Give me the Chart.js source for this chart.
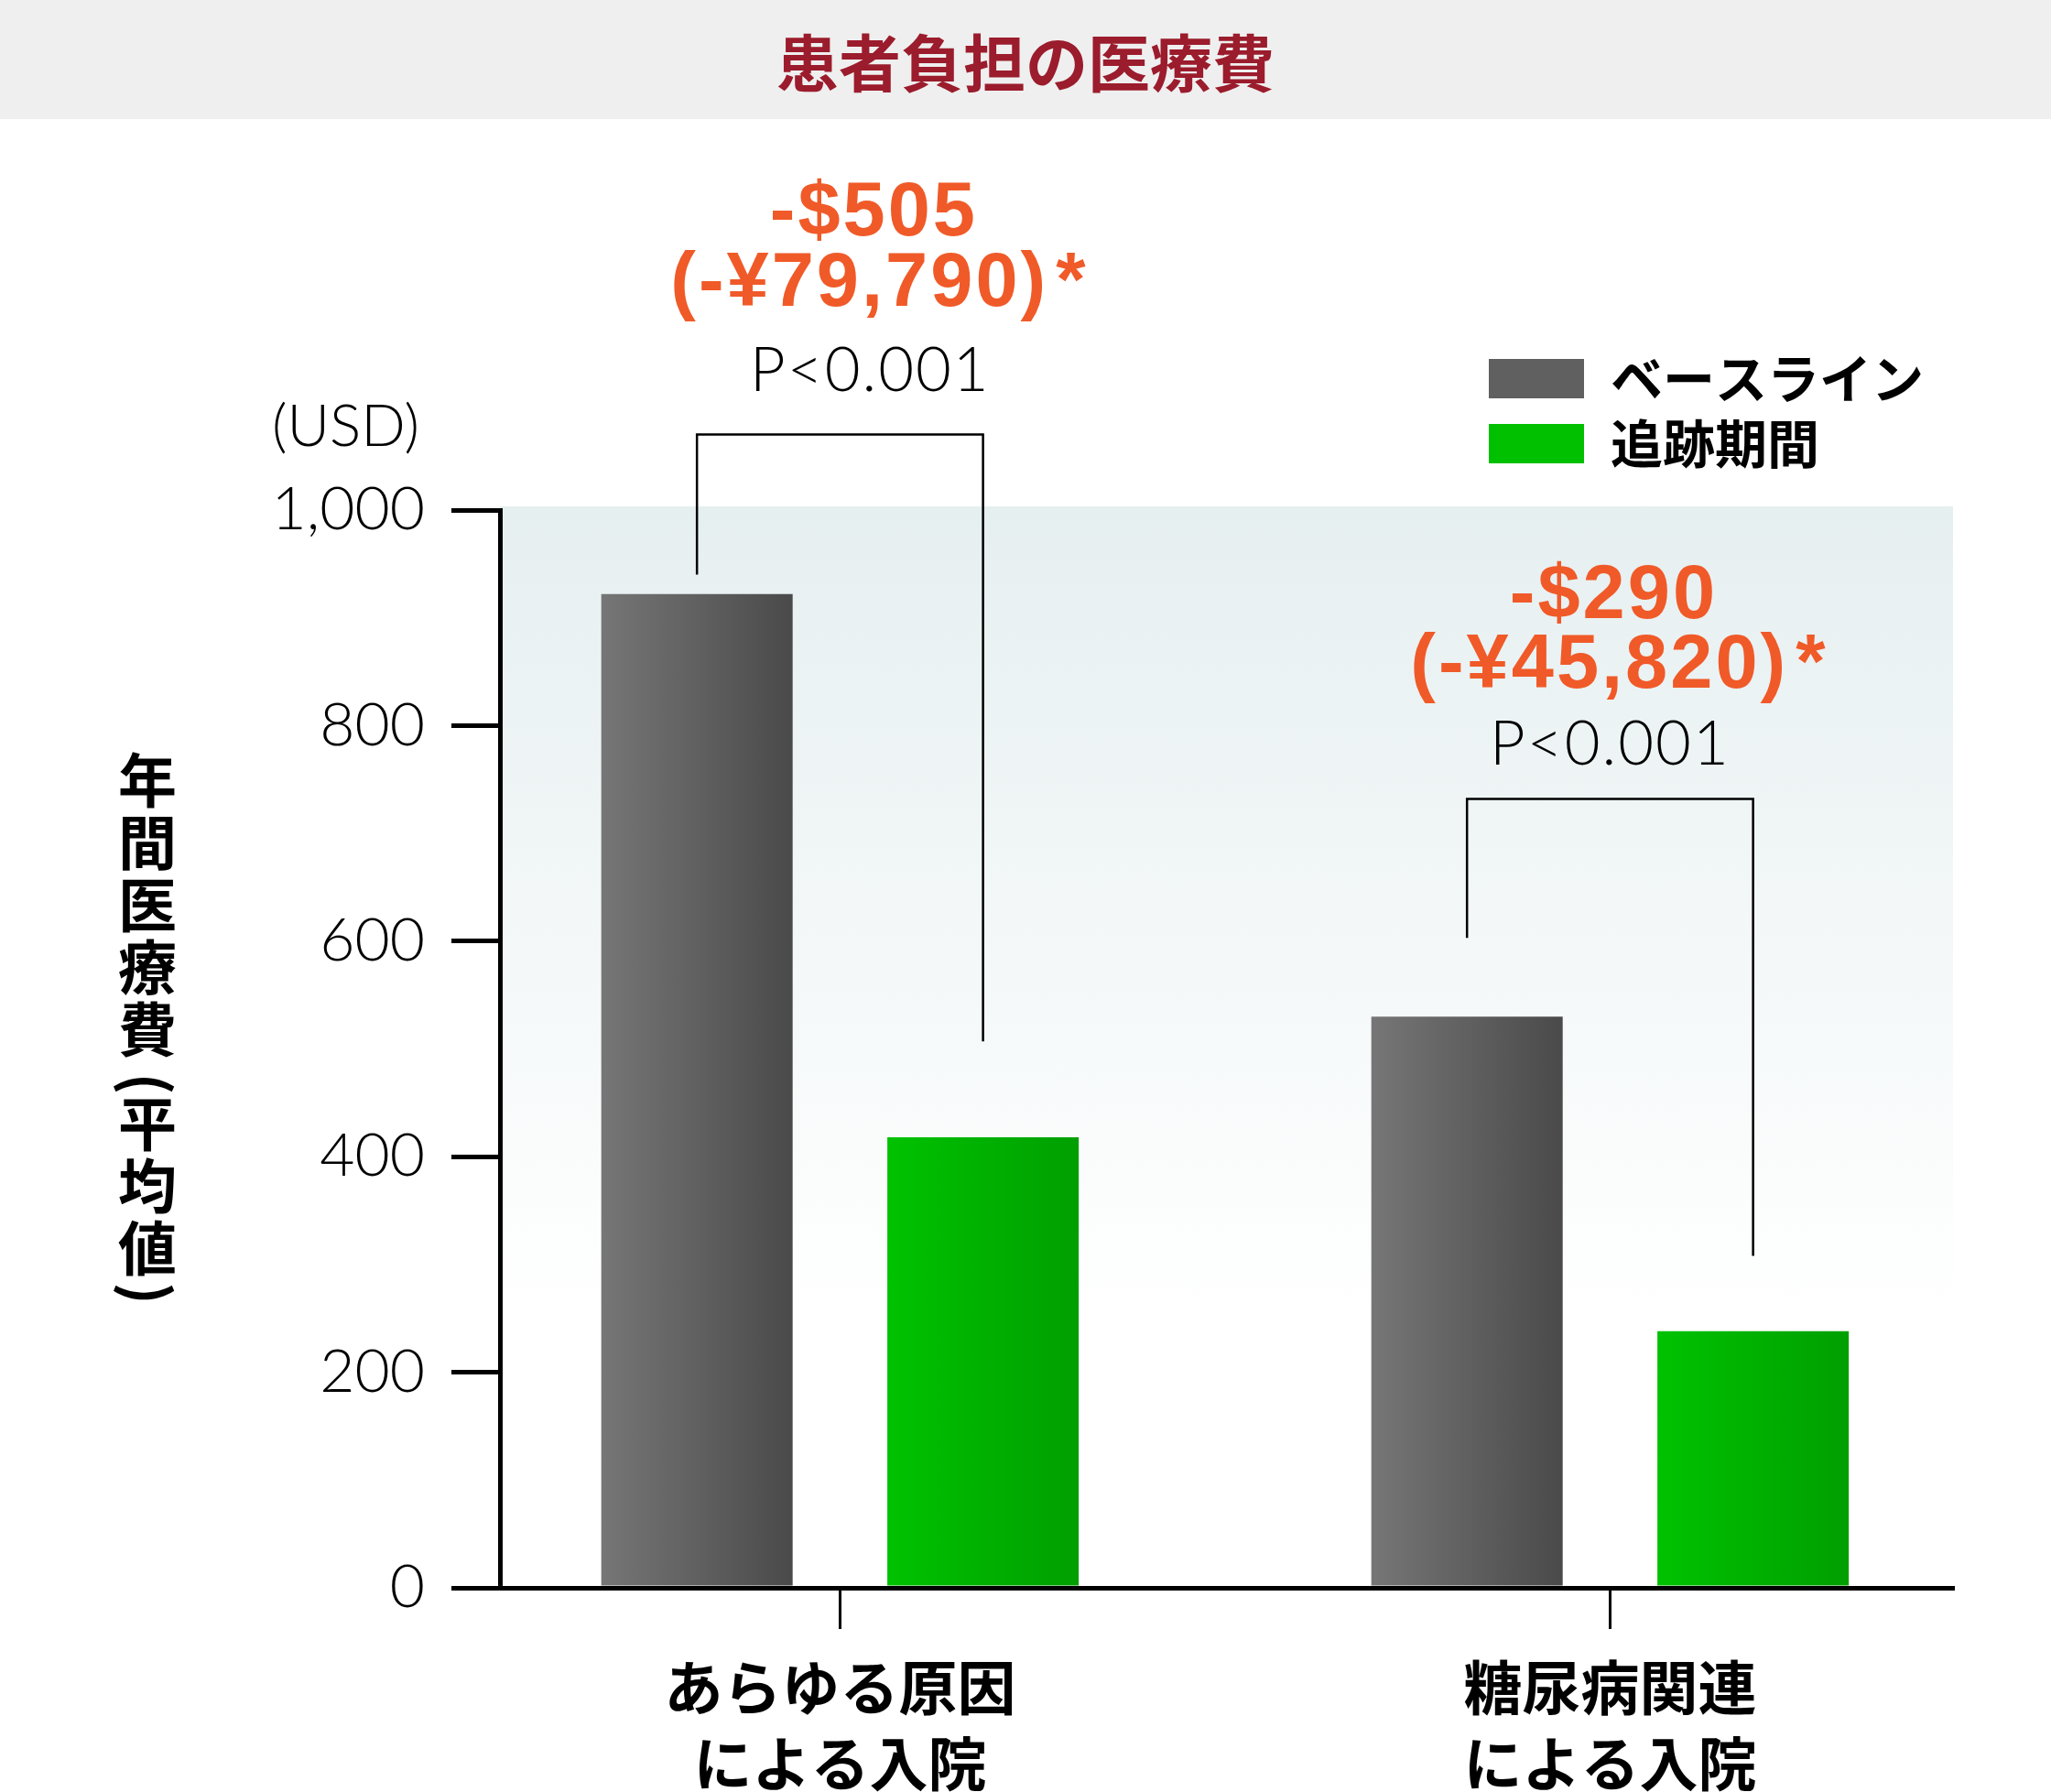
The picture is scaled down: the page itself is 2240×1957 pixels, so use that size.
<!DOCTYPE html>
<html lang="ja">
<head>
<meta charset="utf-8">
<title>患者負担の医療費</title>
<script src="https://cdn.jsdelivr.net/npm/chart.js@4.4.1/dist/chart.umd.min.js"></script>
<style>
  html, body { margin: 0; padding: 0; background: #fff; }
  .band {
    height: 130px;
    background: #efefef;
    display: flex;
    align-items: center;
    justify-content: center;
    font: 700 68px "Noto Sans CJK JP", sans-serif;
    color: #9b1c2c;
  }
  #chart { display: block; }
</style>
</head>
<body>
<div class="band">患者負担の医療費</div>
<canvas id="chart" width="2240" height="1827"></canvas>
<script>
const categories = [['あらゆる原因', 'による入院'], ['糖尿病関連', 'による入院']];
const seriesNames = ['ベースライン', '追跡期間'];
const baseline = [922, 530];
const followUp = [418, 238];
const yTickLabels = ['0', '200', '400', '600', '800', '1,000'];
const diffUsd = ['-$505', '-$290'];
const diffJpy = ['(-¥79,790)', '(-¥45,820)'];
const pValues = ['P<0.001', 'P<0.001'];
const yTitle = ['年', '間', '医', '療', '費', '(', '平', '均', '値', ')'];

const JP = '"Noto Sans CJK JP", "Noto Sans", sans-serif';
const THIN = 'Lato, "Noto Sans", sans-serif';
const ORANGE = '#f05a28';

// annotation levels in y-axis units (text centres and bracket ends)
const notes = [
  { dx: 33, usd: 1274, jpy: 1209, p: 1129, top: 1070, left: 940, right: 507 },
  { dx: 0, usd: 919, jpy: 855, p: 782, top: 732, left: 603, right: 308 }
];

// horizontal gradient per bar, needs the element geometry from a first layout pass
function barFill(light, dark) {
  return (ctx) => {
    const el = ctx.element;
    if (ctx.type !== 'data' || !el || !Number.isFinite(el.x) || !Number.isFinite(el.width)) return dark;
    const g = ctx.chart.ctx.createLinearGradient(el.x - el.width / 2, 0, el.x + el.width / 2, 0);
    g.addColorStop(0, light);
    g.addColorStop(1, dark);
    return g;
  };
}

const plotShade = {
  id: 'plotShade',
  beforeDraw(chart) {
    const { ctx: c, chartArea: a } = chart;
    const g = c.createLinearGradient(0, a.top - 4, 0, a.top + 875);
    g.addColorStop(0, '#e6eff0');
    g.addColorStop(1, '#ffffff');
    c.save();
    c.fillStyle = g;
    c.fillRect(a.left, a.top - 4, a.right - a.left, a.bottom - a.top + 4);
    c.restore();
  }
};

const sideTitle = {
  id: 'sideTitle',
  afterDraw(chart) {
    const c = chart.ctx;
    c.save();
    c.fillStyle = '#000';
    c.font = `700 64px ${JP}`;
    c.textAlign = 'center';
    c.textBaseline = 'middle';
    let y = 688;
    for (const ch of yTitle) {
      const paren = ch === '(' || ch === ')';
      const h = paren ? 35 : 68;
      const cy = y + h / 2;
      if (paren) {
        c.save();
        c.translate(161, cy + (ch === '(' ? 8 : -2));
        c.rotate(Math.PI / 2);
        c.fillText(ch, 0, 0);
        c.restore();
      } else {
        c.fillText(ch, 161, cy);
      }
      y += h;
    }
    // unit label
    c.font = `300 64px ${THIN}`;
    c.textAlign = 'right';
    c.fillText('(USD)', 458, 336);
    c.restore();
  }
};

const sideLegend = {
  id: 'sideLegend',
  afterDraw(chart) {
    const c = chart.ctx;
    c.save();
    c.font = `700 57px ${JP}`;
    c.textBaseline = 'middle';
    c.textAlign = 'left';
    chart.data.datasets.forEach((ds, i) => {
      const top = 262 + i * 71;
      c.fillStyle = ds.swatch;
      c.fillRect(1626, top, 104, 43);
      c.fillStyle = '#000';
      c.fillText(ds.label, 1759, top + 21);
    });
    c.restore();
  }
};

const diffNotes = {
  id: 'diffNotes',
  afterDraw(chart) {
    const c = chart.ctx;
    const y = chart.scales.y;
    const m0 = chart.getDatasetMeta(0);
    const m1 = chart.getDatasetMeta(1);
    notes.forEach((n, i) => {
      const xl = m0.data[i].x;
      const xr = m1.data[i].x;
      const cx = (xl + xr) / 2 + n.dx;
      const yTop = y.getPixelForValue(n.top);
      c.save();
      c.strokeStyle = '#000';
      c.lineWidth = 2.5;
      c.beginPath();
      c.moveTo(xl, y.getPixelForValue(n.left));
      c.lineTo(xl, yTop);
      c.lineTo(xr, yTop);
      c.lineTo(xr, y.getPixelForValue(n.right));
      c.stroke();

      c.textBaseline = 'middle';
      c.textAlign = 'center';
      c.fillStyle = '#000';
      c.font = `300 67px ${THIN}`;
      c.letterSpacing = '2px';
      c.fillText(pValues[i], cx, y.getPixelForValue(n.p));

      c.fillStyle = ORANGE;
      c.font = '700 83px "Liberation Sans", Arial, sans-serif';
      c.letterSpacing = '3px';
      c.fillText(diffUsd[i], cx + 4, y.getPixelForValue(n.usd));

      const w = c.measureText(diffJpy[i]).width;
      const aw = c.measureText('*').width;
      const gap = 8;
      const x0 = cx + 10 - (w + gap + aw) / 2;
      const yy = y.getPixelForValue(n.jpy);
      c.textAlign = 'left';
      c.fillText(diffJpy[i], x0, yy);
      c.fillText('*', x0 + w + gap, yy);
      c.restore();
    });
  }
};

const canvas = document.getElementById('chart');
const chart = new Chart(canvas, {
  type: 'bar',
  data: {
    datasets: [
      {
        label: seriesNames[0],
        data: baseline.map((v, i) => ({ x: i, y: v })),
        backgroundColor: barFill('#767676', '#4a4a4a'),
        swatch: '#606060',
        categoryPercentage: 0.743,
        barPercentage: 0.669
      },
      {
        label: seriesNames[1],
        data: followUp.map((v, i) => ({ x: i, y: v })),
        backgroundColor: barFill('#00c200', '#009f00'),
        swatch: '#00c000',
        categoryPercentage: 0.743,
        barPercentage: 0.669
      }
    ]
  },
  options: {
    responsive: false,
    animation: false,
    layout: { padding: { top: 427, right: 107, bottom: 0, left: 0 } },
    plugins: {
      legend: { display: false },
      tooltip: { enabled: false },
      title: { display: false }
    },
    scales: {
      x: {
        type: 'linear',
        position: 'bottom',
        min: -0.4416,
        max: 1.4454,
        offset: false,
        afterBuildTicks: (s) => { s.ticks = categories.map((_, i) => ({ value: i })); },
        afterFit: (s) => { s.height = 223; },
        ticks: {
          autoSkip: false,
          maxRotation: 0,
          padding: 22,
          color: '#000',
          font: { family: JP, size: 64, weight: 700, lineHeight: 1.3 },
          callback: (v) => categories[v]
        },
        grid: { offset: false, drawOnChartArea: false, drawTicks: true, tickLength: 45, lineWidth: 3, color: '#000' },
        border: { color: '#000', width: 5 }
      },
      y: {
        min: 0,
        max: 1000,
        afterFit: (s) => { s.width = 546; },
        ticks: {
          stepSize: 200,
          padding: 29,
          color: '#000',
          font: { family: THIN, size: 66, weight: 300 },
          callback: (v, i) => yTickLabels[i]
        },
        grid: { drawOnChartArea: false, drawTicks: true, tickLength: 53, lineWidth: 5, color: '#000' },
        border: { color: '#000', width: 5 }
      }
    }
  },
  plugins: [plotShade, sideTitle, sideLegend, diffNotes]
});
chart.update();
</script>
</body>
</html>
